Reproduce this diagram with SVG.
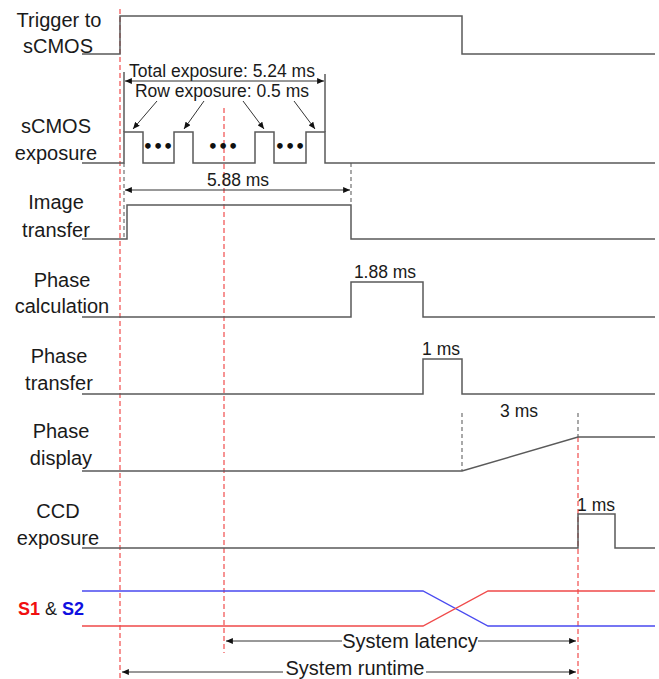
<svg xmlns="http://www.w3.org/2000/svg" width="659" height="679" viewBox="0 0 659 679">
<style>
.sig{fill:none;stroke:#5a5a5a;stroke-width:1.5}
.red{fill:none;stroke:#f25a5a;stroke-width:1.3;stroke-dasharray:5,3}
.gd{fill:none;stroke:#707070;stroke-width:1.2;stroke-dasharray:4,3}
.arr{fill:none;stroke:#333;stroke-width:1}
.lbl{font-family:"Liberation Sans",Arial,sans-serif;font-size:20px;fill:#1a1a1a;text-anchor:middle}
.ann{font-family:"Liberation Sans",Arial,sans-serif;font-size:17.5px;fill:#1a1a1a;text-anchor:middle}
.dots{font-family:"DejaVu Sans",sans-serif;font-size:16px;fill:#111;text-anchor:middle;font-weight:bold}
</style>
<defs>
<marker id="ah" viewBox="0 0 8 7" refX="8" refY="3.5" markerWidth="7" markerHeight="6" markerUnits="userSpaceOnUse" orient="auto-start-reverse">
<path d="M0,0 L8,3.5 L0,7 z" fill="#111"/>
</marker>
</defs>
<rect width="659" height="679" fill="#fff"/>

<g id="guides">
<line class="red" x1="120" y1="9" x2="120" y2="679"/>
<line class="red" x1="224" y1="108" x2="224" y2="653"/>
<line class="red" x1="578" y1="437" x2="578" y2="679"/>
<line class="gd" x1="124" y1="163" x2="124" y2="238"/>
<line class="gd" x1="351" y1="163" x2="351" y2="205"/>
<line class="gd" x1="462" y1="413" x2="462" y2="471"/>
<line class="gd" x1="578" y1="413" x2="578" y2="437"/>
</g>

<g id="trigger">
<text class="lbl" x="59" y="27">Trigger to</text>
<text class="lbl" x="58" y="53">sCMOS</text>
<polyline class="sig" points="82,54 120,54 120,16 462,16 462,54 655,54"/>
</g>

<g id="scmos-exposure">
<text class="lbl" x="56" y="133">sCMOS</text>
<text class="lbl" x="56" y="160">exposure</text>
<polyline class="sig" points="82,163 124,163 124,132 143,132 143,163 174,163 174,132 193,132 193,163 255,163 255,132 274,132 274,163 306,163 306,132 325,132 325,163 655,163"/>
<line class="sig" x1="124" y1="72" x2="124" y2="132"/>
<line class="sig" x1="325" y1="74" x2="325" y2="132"/>
<text class="dots" x="158" y="152">•••</text>
<text class="dots" x="223" y="152">•••</text>
<text class="dots" x="290" y="152">•••</text>
<text class="ann" x="222" y="77">Total exposure: 5.24 ms</text>
<text class="ann" x="222" y="97">Row exposure: 0.5 ms</text>
</g>

<g id="image-transfer">
<text class="lbl" x="56" y="209">Image</text>
<text class="lbl" x="56" y="237">transfer</text>
<polyline class="sig" points="82,239 127,239 127,205 351,205 351,239 655,239"/>
<text class="ann" x="238" y="186">5.88 ms</text>
</g>

<g id="phase-calculation">
<text class="lbl" x="62" y="287">Phase</text>
<text class="lbl" x="62" y="313">calculation</text>
<polyline class="sig" points="82,317 351,317 351,282 423,282 423,317 655,317"/>
<text class="ann" x="385" y="278">1.88 ms</text>
</g>

<g id="phase-transfer">
<text class="lbl" x="59" y="363">Phase</text>
<text class="lbl" x="59" y="390">transfer</text>
<polyline class="sig" points="82,394 423,394 423,359 462,359 462,394 655,394"/>
<text class="ann" x="441" y="355">1 ms</text>
</g>

<g id="phase-display">
<text class="lbl" x="61" y="438">Phase</text>
<text class="lbl" x="61" y="465">display</text>
<polyline class="sig" points="82,471 462,471 578,437 655,437"/>
<text class="ann" x="519" y="417">3 ms</text>
</g>

<g id="ccd-exposure">
<text class="lbl" x="58" y="518">CCD</text>
<text class="lbl" x="58" y="545">exposure</text>
<polyline class="sig" points="82,548 578,548 578,514 615,514 615,548 655,548"/>
<text class="ann" x="596" y="511">1 ms</text>
</g>

<g id="s1-s2">
<text x="18" y="615" font-family="Liberation Sans,Arial,sans-serif" font-size="18" fill="#1a1a1a"><tspan fill="#f01010" font-weight="bold">S1</tspan> &amp; <tspan fill="#1010e0" font-weight="bold">S2</tspan></text>
<polyline fill="none" stroke="#4a4af0" stroke-width="1.3" points="82,591 423,591 488,626 655,626"/>
<polyline fill="none" stroke="#f04a4a" stroke-width="1.3" points="82,626 423,626 488,591 655,591"/>
</g>

<g id="connectors">
<line class="arr" x1="125" y1="81" x2="324" y2="81" marker-start="url(#ah)" marker-end="url(#ah)"/>
<line class="arr" x1="157" y1="101" x2="133" y2="129" marker-end="url(#ah)"/>
<line class="arr" x1="204" y1="101" x2="184" y2="129" marker-end="url(#ah)"/>
<line class="arr" x1="243" y1="101" x2="264" y2="129" marker-end="url(#ah)"/>
<line class="arr" x1="294" y1="101" x2="315" y2="129" marker-end="url(#ah)"/>
<line class="arr" x1="125" y1="190" x2="350" y2="190" marker-start="url(#ah)" marker-end="url(#ah)"/>
<line class="arr" x1="226" y1="641" x2="342" y2="641" marker-start="url(#ah)"/>
<line class="arr" x1="478" y1="641" x2="576" y2="641" marker-end="url(#ah)"/>
<text class="lbl" x="410" y="648">System latency</text>
<line class="arr" x1="122" y1="672" x2="283" y2="672" marker-start="url(#ah)"/>
<line class="arr" x1="426" y1="672" x2="576" y2="672" marker-end="url(#ah)"/>
<text class="lbl" x="355" y="675">System runtime</text>
</g>
</svg>
